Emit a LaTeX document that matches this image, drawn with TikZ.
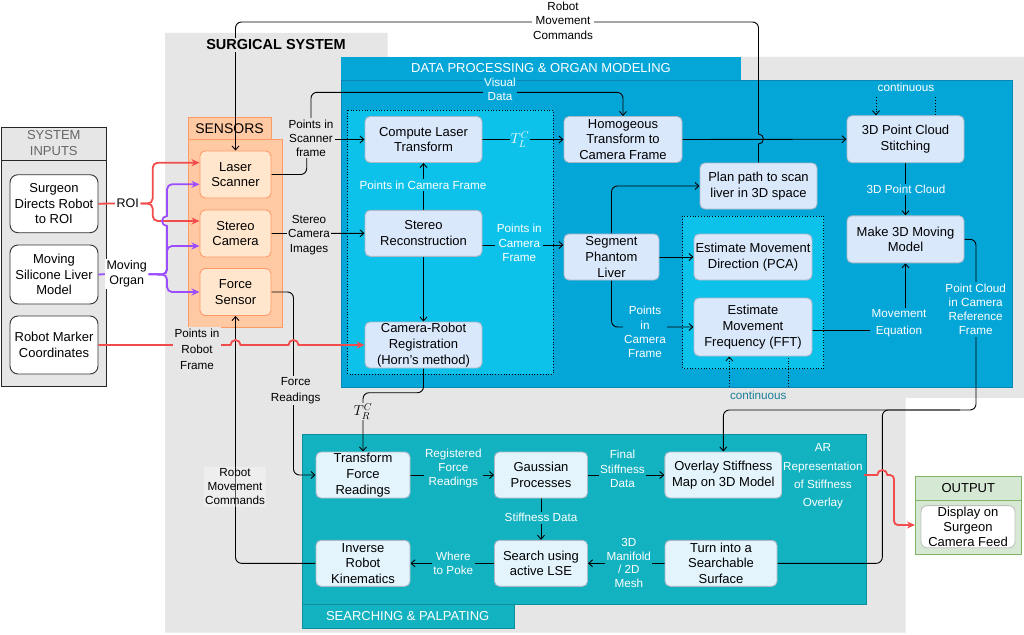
\documentclass[tikz,border=0pt]{standalone}
\usepackage{fontspec}
\setmainfont{Liberation Sans}
\usetikzlibrary{arrows.meta,calc}
\pgfdeclarelayer{bg}
\pgfdeclarelayer{edges}
\pgfsetlayers{bg,edges,main}
\definecolor{sysgray}{HTML}{E6E6E6}
\definecolor{dpblue}{HTML}{04A6D8}
\definecolor{dplight}{HTML}{0DC2EA}
\definecolor{dpline}{HTML}{0A86B4}
\definecolor{nodeblue}{HTML}{DAE8FC}
\definecolor{nodeborder}{HTML}{AEB8C6}
\definecolor{teal1}{HTML}{12B2C0}
\definecolor{tealline}{HTML}{0E8E9A}
\definecolor{spfill}{HTML}{E3F4FC}
\definecolor{sensbody}{HTML}{FFC9A3}
\definecolor{sensline}{HTML}{FF9966}
\definecolor{sensfill}{HTML}{FFE6CC}
\definecolor{outgreen}{HTML}{D5E8D4}
\definecolor{outline}{HTML}{82B366}
\definecolor{myred}{HTML}{F24B4B}
\definecolor{mypurple}{HTML}{9B4DFF}
\definecolor{conttxt}{HTML}{1A7E99}
\tikzset{
  nfont/.style={font=\fontsize{13}{15.7}\selectfont},
  lfont/.style={font=\fontsize{11.7}{14.2}\selectfont},
  wh/.style 2 args={minimum width=#1, minimum height=#2},
  basebox/.style={rounded corners=5pt, align=center, inner sep=1pt, line width=0.9pt, nfont},
  dpnode/.style={basebox, draw=nodeborder, fill=nodeblue},
  spnode/.style={basebox, draw=nodeborder, fill=spfill},
  sensnode/.style={basebox, draw=sensline, fill=sensfill, minimum width=71, minimum height=47},
  innode/.style={basebox, draw=black!80, fill=white, rounded corners=8pt, minimum width=88, minimum height=58},
  lbl/.style={align=center, inner sep=1.5pt, lfont},
  wlbl/.style={lbl, text=white},
  conn/.style={draw=black, line width=0.9pt, rounded corners=6pt},
  arr/.style={conn, -{Straight Barb[length=4pt,width=7pt]}},
  dotarr/.style={draw=black, line width=0.8pt, dotted, -{Straight Barb[length=4pt,width=7pt]}},
  dotln/.style={draw=black, line width=0.8pt, dotted},
  redln/.style={draw=myred, line width=1.8pt},
  redarr/.style={redln, -{Stealth[length=8pt,width=7pt]}},
  purpln/.style={draw=mypurple, line width=1.8pt},
  purparr/.style={purpln, -{Stealth[length=8pt,width=7pt]}},
}
\begin{document}
\begin{tikzpicture}[x=1pt,y=-1pt]
\useasboundingbox (0,0) rectangle (1024,634);

\begin{pgfonlayer}{bg}
\fill[white] (0,0) rectangle (1024,634);
\fill[sysgray] (165,33) -- (387.5,33) -- (387.5,57) -- (1024,57) -- (1024,398) -- (905.5,398) -- (905.5,632.5) -- (165,632.5) -- cycle;
\fill[dpblue] (341,57) rectangle (741,80);
\filldraw[fill=dpblue, draw=dpline, line width=0.8pt] (341,80) rectangle (1012,387);
\filldraw[fill=dplight, draw=black, dotted, line width=0.8pt] (347.5,110) rectangle (553,374);
\filldraw[fill=dplight, draw=black, dotted, line width=0.8pt] (682.7,216) rectangle (823.7,368.7);
\filldraw[fill=sensbody, draw=sensline, line width=0.9pt] (188,117.7) rectangle (271,139);
\filldraw[fill=sensbody, draw=sensline, line width=0.9pt] (188,139) rectangle (282.7,327.3);
\filldraw[fill=sysgray, draw=black!85, line width=1pt] (1,127) rectangle (106.7,386);
\draw[black!85, line width=1pt] (1,160.7) -- (106.7,160.7);
\filldraw[fill=teal1, draw=tealline, line width=0.8pt] (302,434) rectangle (866.7,604.3);
\filldraw[fill=teal1, draw=tealline, line width=0.8pt] (302,604.3) rectangle (514.5,628.3);
\filldraw[fill=outgreen, draw=outline, line width=1pt] (915,476.7) rectangle (1021.7,554);
\draw[outline, line width=1pt] (915,500.3) -- (1021.7,500.3);
\end{pgfonlayer}

% titles
\node[font=\bfseries\fontsize{14.5}{16}\selectfont, fill=sysgray, inner sep=2pt] (sstitle) at (276,45) {SURGICAL SYSTEM};
\node[nfont, text=white] (dptitle) at (541,68.5) {DATA PROCESSING \& ORGAN MODELING};
\node[font=\fontsize{14}{16}\selectfont] (senstitle) at (229.5,128.3) {SENSORS};
\node[nfont, text=black!60, align=center] (sititle) at (53.8,143.3) {SYSTEM\\INPUTS};
\node[nfont, text=white] (sptitle) at (407.7,616.3) {SEARCHING \& PALPATING};
\node[nfont] (outtitle) at (968.3,488.5) {OUTPUT};

% system inputs
\node[innode] (surg) at (54,203.7) {Surgeon\\Directs Robot\\to ROI};
\node[innode, minimum height=59] (moving) at (54,274.5) {Moving\\Silicone Liver\\Model};
\node[innode] (rmc) at (54,345) {Robot Marker\\Coordinates};

% sensors
\node[sensnode] (laser) at (235.5,174.5) {Laser\\Scanner};
\node[sensnode] (stereo) at (235.5,233.5) {Stereo\\Camera};
\node[sensnode] (force) at (235.5,292) {Force\\Sensor};

% data processing
\node[dpnode, wh={117}{46}] (clt) at (423.5,139.5) {Compute Laser\\Transform};
\node[dpnode, wh={117}{46}] (sr) at (423.5,233.3) {Stereo\\Reconstruction};
\node[dpnode, wh={117}{46}] (crr) at (423.5,345) {Camera-Robot\\Registration\\(Horn's method)};
\node[dpnode, wh={118}{46}] (htc) at (623,139.5) {Homogeous\\Transform to\\Camera Frame};
\node[dpnode, wh={95}{46}] (spl) at (611.5,257) {Segment\\Phantom\\Liver};
\node[dpnode, wh={117}{46}] (plan) at (758.5,186) {Plan path to scan\\liver in 3D space};
\node[dpnode, wh={118}{46}] (emd) at (753,257) {Estimate Movement\\Direction (PCA)};
\node[dpnode, wh={118}{58}] (emf) at (753,327) {Estimate\\Movement\\Frequency (FFT)};
\node[dpnode, wh={117}{47}] (pcs) at (905.5,139.2) {3D Point Cloud\\Stitching};
\node[dpnode, wh={117}{47}] (m3d) at (905.5,239.3) {Make 3D Moving\\Model};

% searching
\node[spnode, wh={94}{46}] (tfr) at (363,475) {Transform\\Force\\Readings};
\node[spnode, wh={94}{46}] (irk) at (363,563.3) {Inverse\\Robot\\Kinematics};
\node[spnode, wh={93}{46}] (gp) at (541,475) {Gaussian\\Processes};
\node[spnode, wh={117}{46}] (ovl) at (723.3,475) {Overlay Stiffness\\Map on 3D Model};
\node[spnode, wh={93}{46}] (lse) at (541,563.3) {Search using\\active LSE};
\node[spnode, wh={112}{46}] (turn) at (721,563.3) {Turn into a\\Searchable\\Surface};

% output
\node[basebox, draw=black!25, fill=white, rounded corners=6pt, wh={94}{40}, font=\fontsize{13}{15.3}\selectfont] (disp) at (968,526.7) {Display on\\Surgeon\\Camera Feed};
\coordinate (outin) at (915,525);

% labels
\node[lbl, fill=white] (rmctop) at (563,20.8) {Robot\\Movement\\Commands};
\node[lbl, fill=sysgray] (scanlbl) at (311,138.3) {Points in\\Scanner\\frame};
\node[wlbl, fill=dpblue] (vislbl) at (500,89.7) {Visual\\Data};
\node[lbl, fill=sysgray] (stlbl) at (309,235) {Stereo\\Camera\\Images};
\node[lbl, fill=sysgray, font=\fontsize{11.7}{16}\selectfont] (frlbl) at (295.7,390.7) {Force\\Readings};
\node[lbl, fill=white, fill opacity=0.35, text opacity=1] (rmclow) at (235,486.5) {Robot\\Movement\\Commands};
\node[lbl, fill=sysgray, font=\fontsize{11.7}{16.3}\selectfont] (prflbl) at (197,349.5) {Points in\\Robot\\Frame};
\node[lbl, font=\fontsize{12.5}{15}\selectfont, fill=white] (roi) at (127.7,203.5) {ROI};
\node[lbl, font=\fontsize{12.5}{15}\selectfont, fill=white] (organ) at (126.7,274.2) {Moving\\Organ};
\node[wlbl, fill=dplight] (pcf1) at (423,185) {Points in Camera Frame};
\node[wlbl, fill=dplight, inner sep=1pt, font=\fontsize{14}{14}\selectfont] (tlc) at (520,139.5) {$T_L^C$};
\node[wlbl, fill=dplight] (pcf2) at (519.3,243) {Points in\\Camera\\Frame};
\node[wlbl, fill=dpblue] (pcf3) at (645,332) {Points\\in\\Camera\\Frame};
\node[wlbl, fill=dpblue] (pclbl) at (906,189.3) {3D Point Cloud};
\node[wlbl, fill=dpblue, font=\fontsize{11.7}{16.5}\selectfont] (meqlbl) at (899,323.3) {Movement\\Equation};
\node[wlbl, fill=dpblue] (pccrf) at (975.7,309.5) {Point Cloud\\in Camera\\Reference\\Frame};
\node[wlbl, fill=dpblue] (cont1) at (906,87.7) {continuous};
\node[lbl, text=conttxt] (cont2) at (758.3,395) {continuous};
\node[lbl, fill=sysgray, inner sep=1pt, font=\fontsize{14}{14}\selectfont] (trc) at (363,411.5) {$T_R^C$};
\node[wlbl, fill=teal1] (rfr) at (453.3,468.5) {Registered\\Force\\Readings};
\node[wlbl, fill=teal1] (fsd) at (622.5,469) {Final\\Stiffness\\Data};
\node[wlbl, fill=teal1] (sdl) at (541,517.7) {Stiffness Data};
\node[wlbl, fill=teal1, font=\fontsize{11.7}{13.7}\selectfont] (mfd) at (628.8,563) {3D\\Manifold\\/ 2D\\Mesh};
\node[wlbl, fill=teal1] (wtp) at (453.3,563) {Where\\to Poke};
\node[wlbl, fill=teal1, font=\fontsize{11.7}{18.3}\selectfont] (arl) at (822.9,476.5) {AR\\Representation\\of Stiffness\\Overlay};

\coordinate (ct1) at (876,97.3);
\coordinate (ct2) at (935,97.3);
\coordinate (ct3) at (729.3,386.5);
\coordinate (ct4) at (788.3,386.5);

\begin{pgfonlayer}{edges}
% robot movement commands (top)
\draw[arr] (plan.north) [sharp corners] -- (758.5,144) arc[start angle=90, end angle=-90, radius=5] -- (758.5,60) [rounded corners=6pt] -- (758.5,22) -- (235.5,22) -- (laser.north);
% laser
\draw[arr] (laser.east) -- (306.7,174.5) -- (306.7,139.5) -- (clt.west);
\draw[arr] (scanlbl.north) -- (311,92.3) -- (623,92.3) -- (htc.north);
% stereo
\draw[arr] (stereo.east) -- (sr.west);
% force
\draw[arr] (force.east) -- (293.5,292) -- (293.5,475) -- (tfr.west);
\draw[arr] (irk.west) -- (235.5,563.3) -- (force.south);
% data processing
\draw[arr] (sr.north) -- (clt.south);
\draw[arr] (sr.south) -- (crr.north);
\draw[arr] (clt.east) -- (htc.west);
\draw[arr] ($(sr.east)+(0,11.7)$) -- ($(spl.west)+(0,-12)$);
\draw[arr] (spl.north) -- (611.5,186) -- (plan.west);
\draw[arr] (spl.east) -- (emd.west);
\draw[arr] (spl.south) -- (611.5,327) -- (emf.west);
\draw[arr] (htc.east) -- (pcs.west);
\draw[arr] (pcs.south) -- (m3d.north);
\draw[arr] ($(emf.east)+(0,3.5)$) -- (905.5,330.5) -- (m3d.south);
\draw[arr] (m3d.east) -- (976,239.3) -- (976,410) -- (723.3,410) -- (ovl.north);
\draw[conn] (turn.east) -- (882.3,563.3) -- (882.3,410) -- (960,410);
\draw[dotarr] (ct1) -- ($(pcs.north)+(-29.5,0)$);
\draw[dotln] (ct2) -- ($(pcs.north)+(29.5,0)$);
\draw[dotarr] (ct3) -- ($(emf.south)+(-23.7,0)$);
\draw[dotln] (ct4) -- ($(emf.south)+(35.3,0)$);
% registration to transform
\draw[arr] (crr.south) -- (423.5,392.7) -- (363,392.7) -- (tfr.north);
% searching
\draw[arr] (tfr.east) -- (gp.west);
\draw[arr] (gp.east) -- (ovl.west);
\draw[arr] (gp.south) -- (lse.north);
\draw[arr] (turn.west) -- (lse.east);
\draw[arr] (lse.west) -- (irk.east);
% red: AR overlay to output
\draw[redarr] (ovl.east) -- (877.3,475) arc[start angle=180, end angle=360, radius=5] -- (888.5,475) [rounded corners=4pt] -- (894,475) -- (894,525) -- (outin);
% red: robot marker coordinates
\draw[redarr] (rmc.east) -- (230.5,345) arc[start angle=180, end angle=360, radius=5] -- (288.5,345) arc[start angle=180, end angle=360, radius=5] -- (crr.west);
% red: ROI
\draw[redln] (surg.east) -- (roi.west);
\draw[redarr, rounded corners=5pt] (roi.east) -- (152.7,203.5) -- (152.7,162.7) -- ($(laser.west)+(0,-11.8)$);
\draw[redarr, rounded corners=5pt] (roi.east) -- (152.7,203.5) -- (152.7,221) -- ($(stereo.west)+(0,-12.5)$);
% purple: moving organ
\draw[purpln] (moving.east) -- (organ.west);
\draw[purparr] (organ.east) [rounded corners=5pt] -- (167,274.5) -- (167,232) [sharp corners] -- (167,226) arc[start angle=90, end angle=270, radius=5] -- (167,210) [rounded corners=5pt] -- (167,184.3) -- ($(laser.west)+(0,9.8)$);
\draw[purparr, rounded corners=5pt] (organ.east) -- (167,274.5) -- (167,246) -- ($(stereo.west)+(0,12.5)$);
\draw[purparr, rounded corners=5pt] (organ.east) -- (167,274.5) -- (167,292) -- (force.west);
\end{pgfonlayer}
\end{tikzpicture}
\end{document}
